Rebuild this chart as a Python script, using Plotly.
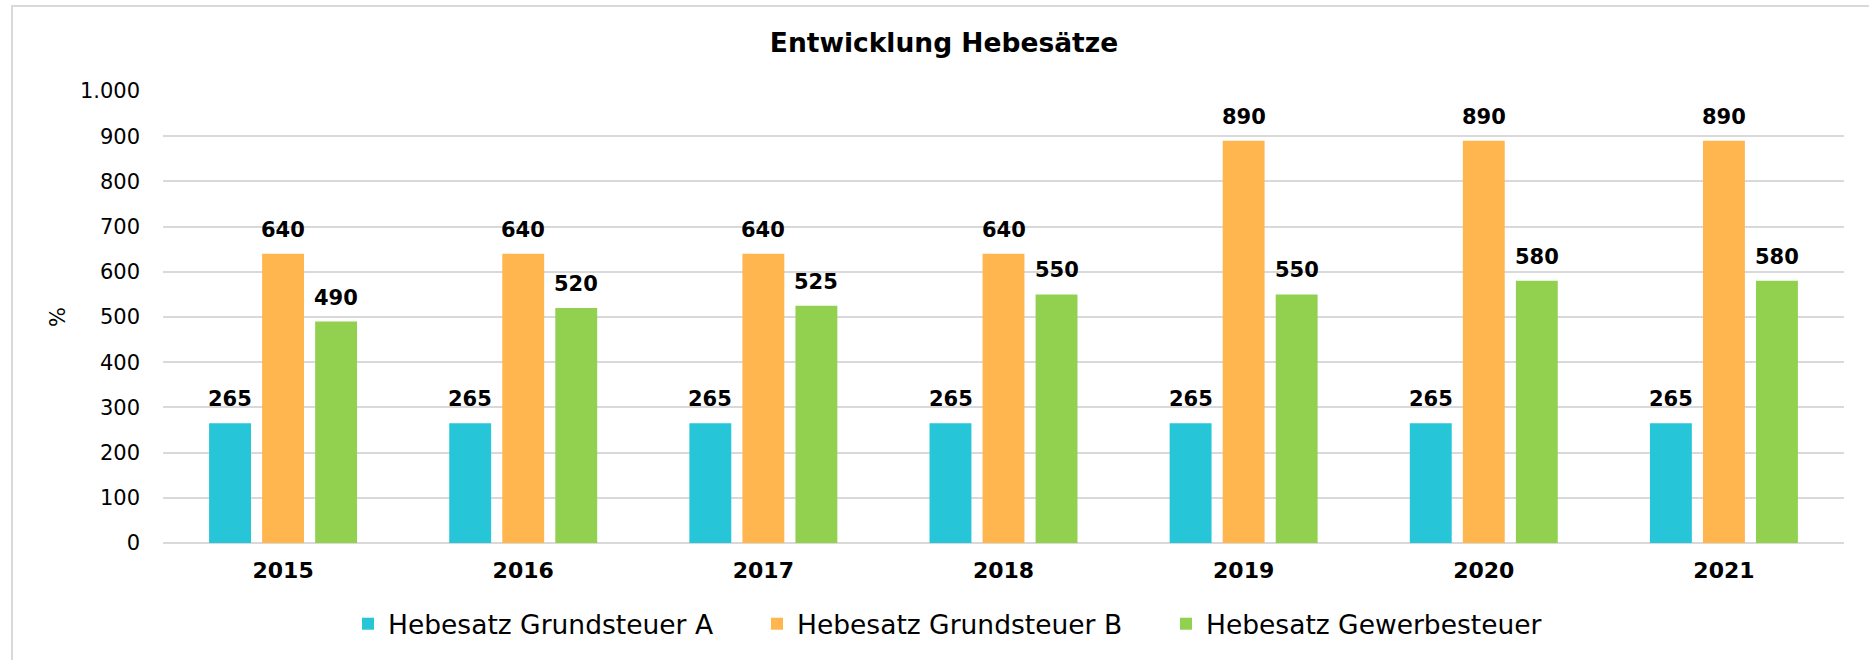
import plotly.graph_objects as go

years = ["2015", "2016", "2017", "2018", "2019", "2020", "2021"]
grundsteuer_a = [265, 265, 265, 265, 265, 265, 265]
grundsteuer_b = [640, 640, 640, 640, 890, 890, 890]
gewerbesteuer = [490, 520, 525, 550, 550, 580, 580]

series_names = ["Hebesatz Grundsteuer A", "Hebesatz Grundsteuer B", "Hebesatz Gewerbesteuer"]
series_values = [grundsteuer_a, grundsteuer_b, gewerbesteuer]
colors = ["#26C5D8", "#FFB64F", "#92D050"]

W, H = 1869, 660
ML, MR, MT, MB = 163, 25, 91, 117
PW = W - ML - MR
PH = H - MT - MB

fig = go.Figure()
for name, vals, col in zip(series_names, series_values, colors):
    fig.add_trace(go.Bar(x=years, y=vals, name=name, marker=dict(color=col, line=dict(width=0))))

# data labels (x given as category index)
offsets = [-53, 0, 53]
for vals, off in zip(series_values, offsets):
    for idx, v in enumerate(vals):
        fig.add_annotation(x=idx, y=v, text=f"<b>{v}</b>", showarrow=False,
                           xshift=off, yshift=10, yanchor="bottom",
                           font=dict(family="DejaVu Sans", size=21, color="#000000"))

# outer border
fig.add_shape(type="rect", xref="paper", yref="paper",
              x0=(12 - ML) / PW, x1=(W + 10 - ML) / PW,
              y0=-(H + 10 - (H - MB)) / PH, y1=(H - MB - 6) / PH,
              line=dict(color="#D9D9D9", width=2), fillcolor="rgba(0,0,0,0)", layer="below")

fig.update_layout(
    width=W, height=H,
    margin=dict(l=ML, r=MR, t=MT, b=MB),
    paper_bgcolor="white", plot_bgcolor="white",
    separators=",.",
    barmode="group", bargap=0.3375, bargroupgap=0.21,
    font=dict(family="DejaVu Sans", color="#000000"),
    title=dict(text="<b>Entwicklung Hebesätze</b>", x=944 / W, xanchor="center",
               y=1 - 43 / H, yanchor="middle", yref="container",
               font=dict(family="DejaVu Sans", size=26.5, color="#000000")),
    legend=dict(orientation="h", x=(348 - ML) / PW, xanchor="left",
                y=-(624 - (H - MB)) / PH, yanchor="middle",
                font=dict(family="DejaVu Sans", size=26.5, color="#000000"),
                entrywidth=364, entrywidthmode="pixels", traceorder="normal"),
    showlegend=True,
)
fig.update_xaxes(type="category", range=[-0.5, len(years) - 0.5], showgrid=False,
                 showline=False, ticks="", ticklabelstandoff=12,
                 tickfont=dict(family="DejaVu Sans", size=22, color="#000000"),
                 tickprefix="<b>", ticksuffix="</b>")
fig.update_yaxes(range=[0, 1000], dtick=100, tickformat=",d", showgrid=True,
                 gridcolor="#D9D9D9", gridwidth=1.5, zeroline=True, zerolinecolor="#D9D9D9",
                 zerolinewidth=1.5, showline=False, ticks="", ticklabelstandoff=22,
                 tickfont=dict(family="DejaVu Sans", size=21, color="#000000"),
                 title=dict(text="%", standoff=8, font=dict(family="DejaVu Sans", size=21, color="#000000")))

fig.write_html("out.html", config={"displayModeBar": False},
               post_script="document.body.style.margin='0';document.body.style.overflow='hidden';")
